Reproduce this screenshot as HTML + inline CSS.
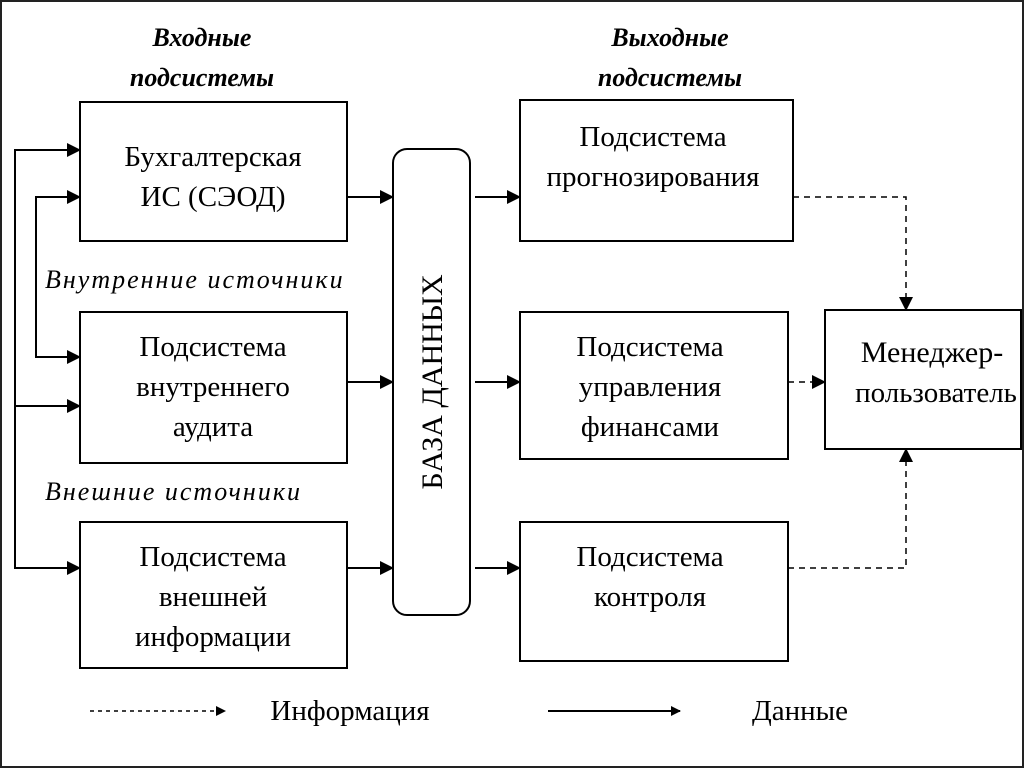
<!DOCTYPE html>
<html><head><meta charset="utf-8"><style>
body{margin:0;background:#fff}
svg text{font-family:"Liberation Serif","DejaVu Serif",serif;fill:#000}
</style></head><body>
<svg width="1024" height="768" viewBox="0 0 1024 768" xmlns="http://www.w3.org/2000/svg">
<defs>
<marker id="a" markerWidth="10" markerHeight="10" refX="9" refY="5" orient="auto" markerUnits="userSpaceOnUse"><path d="M0,0 L10,5 L0,10 z" fill="#000"/></marker>
<marker id="b" markerWidth="14" markerHeight="14" refX="13" refY="7" orient="auto" markerUnits="userSpaceOnUse"><path d="M0,0 L14,7 L0,14 z" fill="#000"/></marker>
</defs>
<rect x="1" y="1" width="1022" height="766" fill="#fff" stroke="#222" stroke-width="2"/>
<g font-style="italic" font-weight="bold" font-size="26" text-anchor="middle">
<text x="202" y="46">Входные</text><text x="202" y="86">подсистемы</text>
<text x="670" y="46">Выходные</text><text x="670" y="86">подсистемы</text>
</g>
<g font-style="italic" font-size="26" letter-spacing="2">
<text x="45" y="288">Внутренние источники</text>
<text x="45" y="500">Внешние источники</text>
</g>
<g fill="none" stroke="#000" stroke-width="2">
<rect x="80" y="102" width="267" height="139"/>
<rect x="80" y="312" width="267" height="151"/>
<rect x="80" y="522" width="267" height="146"/>
<rect x="393" y="149" width="77" height="466" rx="14"/>
<rect x="520" y="100" width="273" height="141"/>
<rect x="520" y="312" width="268" height="147"/>
<rect x="520" y="522" width="268" height="139"/>
<rect x="825" y="310" width="196" height="139"/>
</g>
<g stroke="#000" stroke-width="2" fill="none">
<polyline points="80,150 15,150 15,568 80,568"/>
<line x1="15" y1="150" x2="80" y2="150" marker-end="url(#b)"/>
<line x1="15" y1="406" x2="80" y2="406" marker-end="url(#b)"/>
<line x1="15" y1="568" x2="80" y2="568" marker-end="url(#b)"/>
<polyline points="80,197 36,197 36,357 80,357"/>
<line x1="36" y1="197" x2="80" y2="197" marker-end="url(#b)"/>
<line x1="36" y1="357" x2="80" y2="357" marker-end="url(#b)"/>
<line x1="347" y1="197" x2="393" y2="197" marker-end="url(#b)"/>
<line x1="347" y1="382" x2="393" y2="382" marker-end="url(#b)"/>
<line x1="347" y1="568" x2="393" y2="568" marker-end="url(#b)"/>
<line x1="475" y1="197" x2="520" y2="197" marker-end="url(#b)"/>
<line x1="475" y1="382" x2="520" y2="382" marker-end="url(#b)"/>
<line x1="475" y1="568" x2="520" y2="568" marker-end="url(#b)"/>
<line x1="548" y1="711" x2="680" y2="711" marker-end="url(#a)"/>
</g>
<g stroke="#000" stroke-width="1.5" fill="none" stroke-dasharray="6,5">
<polyline points="793,197 906,197 906,310" marker-end="url(#b)"/>
<line x1="788" y1="382" x2="825" y2="382" marker-end="url(#b)"/>
<polyline points="788,568 906,568 906,449" marker-end="url(#b)"/>
<line x1="90" y1="711" x2="225" y2="711" stroke-dasharray="4,4" marker-end="url(#a)"/>
</g>
<g font-size="29" text-anchor="middle">
<text x="213" y="166">Бухгалтерская</text><text x="213" y="206">ИС (СЭОД)</text>
<text x="213" y="356">Подсистема</text><text x="213" y="396">внутреннего</text><text x="213" y="436">аудита</text>
<text x="213" y="566">Подсистема</text><text x="213" y="606">внешней</text><text x="213" y="646">информации</text>
<text x="653" y="146">Подсистема</text><text x="653" y="186">прогнозирования</text>
<text x="650" y="356">Подсистема</text><text x="650" y="396">управления</text><text x="650" y="436">финансами</text>
<text x="650" y="566">Подсистема</text><text x="650" y="606">контроля</text>
<text x="932" y="362" font-size="30">Менеджер-</text><text x="936" y="402" font-size="29">пользователь</text>
<text x="432" y="382" transform="rotate(-90 432 382)" dy="10" font-size="30">БАЗА ДАННЫХ</text>
<text x="350" y="720">Информация</text>
<text x="800" y="720">Данные</text>
</g>
</svg>
</body></html>
